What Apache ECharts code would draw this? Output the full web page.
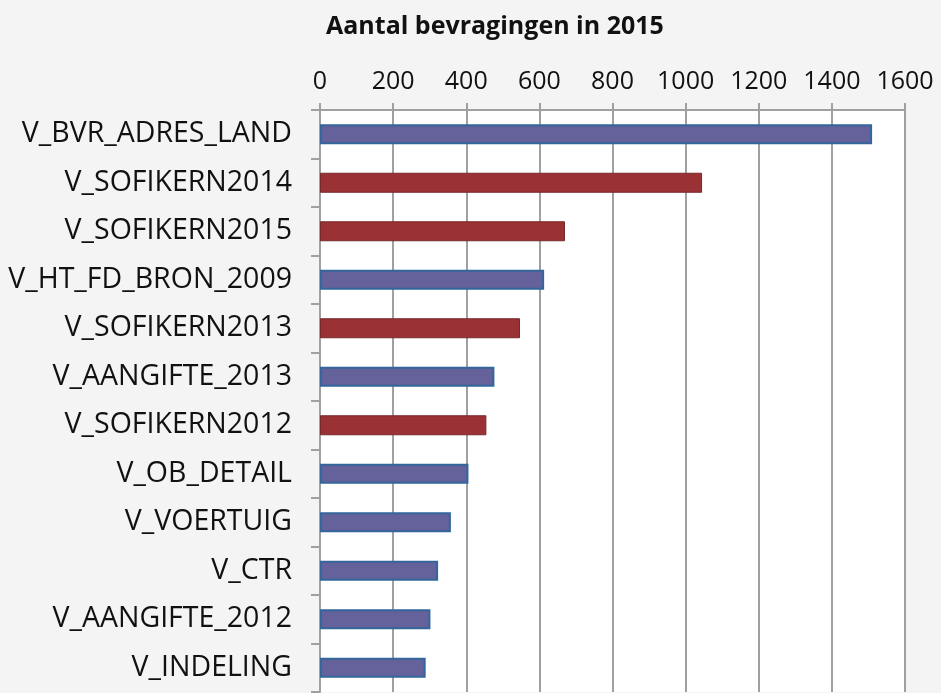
<!DOCTYPE html>
<html>
<head>
<meta charset="utf-8">
<script src="https://cdn.jsdelivr.net/npm/echarts@6/dist/echarts.min.js"></script>
<style>
  html, body { margin: 0; padding: 0; background: #f4f4f4; }
  #chart { width: 941px; height: 693px; }
</style>
</head>
<body>
<div id="chart"></div>
<script>
var categories = ['V_BVR_ADRES_LAND', 'V_SOFIKERN2014', 'V_SOFIKERN2015', 'V_HT_FD_BRON_2009',
    'V_SOFIKERN2013', 'V_AANGIFTE_2013', 'V_SOFIKERN2012', 'V_OB_DETAIL', 'V_VOERTUIG',
    'V_CTR', 'V_AANGIFTE_2012', 'V_INDELING'];
var counts = [1510, 1045, 670, 613, 547, 477, 455, 406, 358, 323, 302, 289];
// which bars are drawn red in the original
var redBars = ['V_SOFIKERN2014', 'V_SOFIKERN2015', 'V_SOFIKERN2013', 'V_SOFIKERN2012'];
var xTicks = { min: 0, max: 1600, step: 200 };

var myChart = echarts.init(document.getElementById('chart'));

var barData = counts.map(function (v, i) {
    var red = redBars.indexOf(categories[i]) >= 0;
    return {
        value: v,
        itemStyle: red
            ? { color: '#9a3134', borderColor: '#76292b', borderWidth: 1 }
            : { color: '#64619b', borderColor: '#33669b', borderWidth: 2 }
    };
});

var option = {
    backgroundColor: '#f4f4f4',
    title: {
        text: 'Aantal bevragingen in 2015',
        left: 321,
        top: 9,
        textStyle: {
            fontFamily: 'Open Sans',
            fontWeight: 'bold',
            fontSize: 25,
            color: '#111'
        }
    },
    grid: {
        left: 320,
        right: 36,
        top: 110,
        bottom: 1,
        show: true,
        backgroundColor: '#ffffff',
        borderWidth: 0
    },
    xAxis: {
        type: 'value',
        position: 'top',
        min: xTicks.min,
        max: xTicks.max,
        interval: xTicks.step,
        axisLine: {
            show: true,
            lineStyle: { color: '#a0a0a0', width: 2 }
        },
        axisTick: {
            show: true,
            length: 7,
            lineStyle: { color: '#a0a0a0', width: 2 }
        },
        splitLine: {
            lineStyle: { color: '#a0a0a0', width: 2 }
        },
        axisLabel: {
            margin: 16,
            color: '#111',
            fontFamily: 'Open Sans',
            fontSize: 25,
            formatter: function (v) { return String(v); }
        }
    },
    yAxis: {
        type: 'category',
        inverse: true,
        data: categories,
        axisLine: {
            show: true,
            lineStyle: { color: '#a0a0a0', width: 2 }
        },
        axisTick: {
            show: true,
            length: 9,
            lineStyle: { color: '#a0a0a0', width: 2 }
        },
        axisLabel: {
            margin: 28,
            color: '#111',
            fontFamily: 'Open Sans',
            fontSize: 28.5
        }
    },
    series: [
        {
            type: 'bar',
            barWidth: 20,
            data: barData
        }
    ]
};

myChart.setOption(option);
</script>
</body>
</html>
